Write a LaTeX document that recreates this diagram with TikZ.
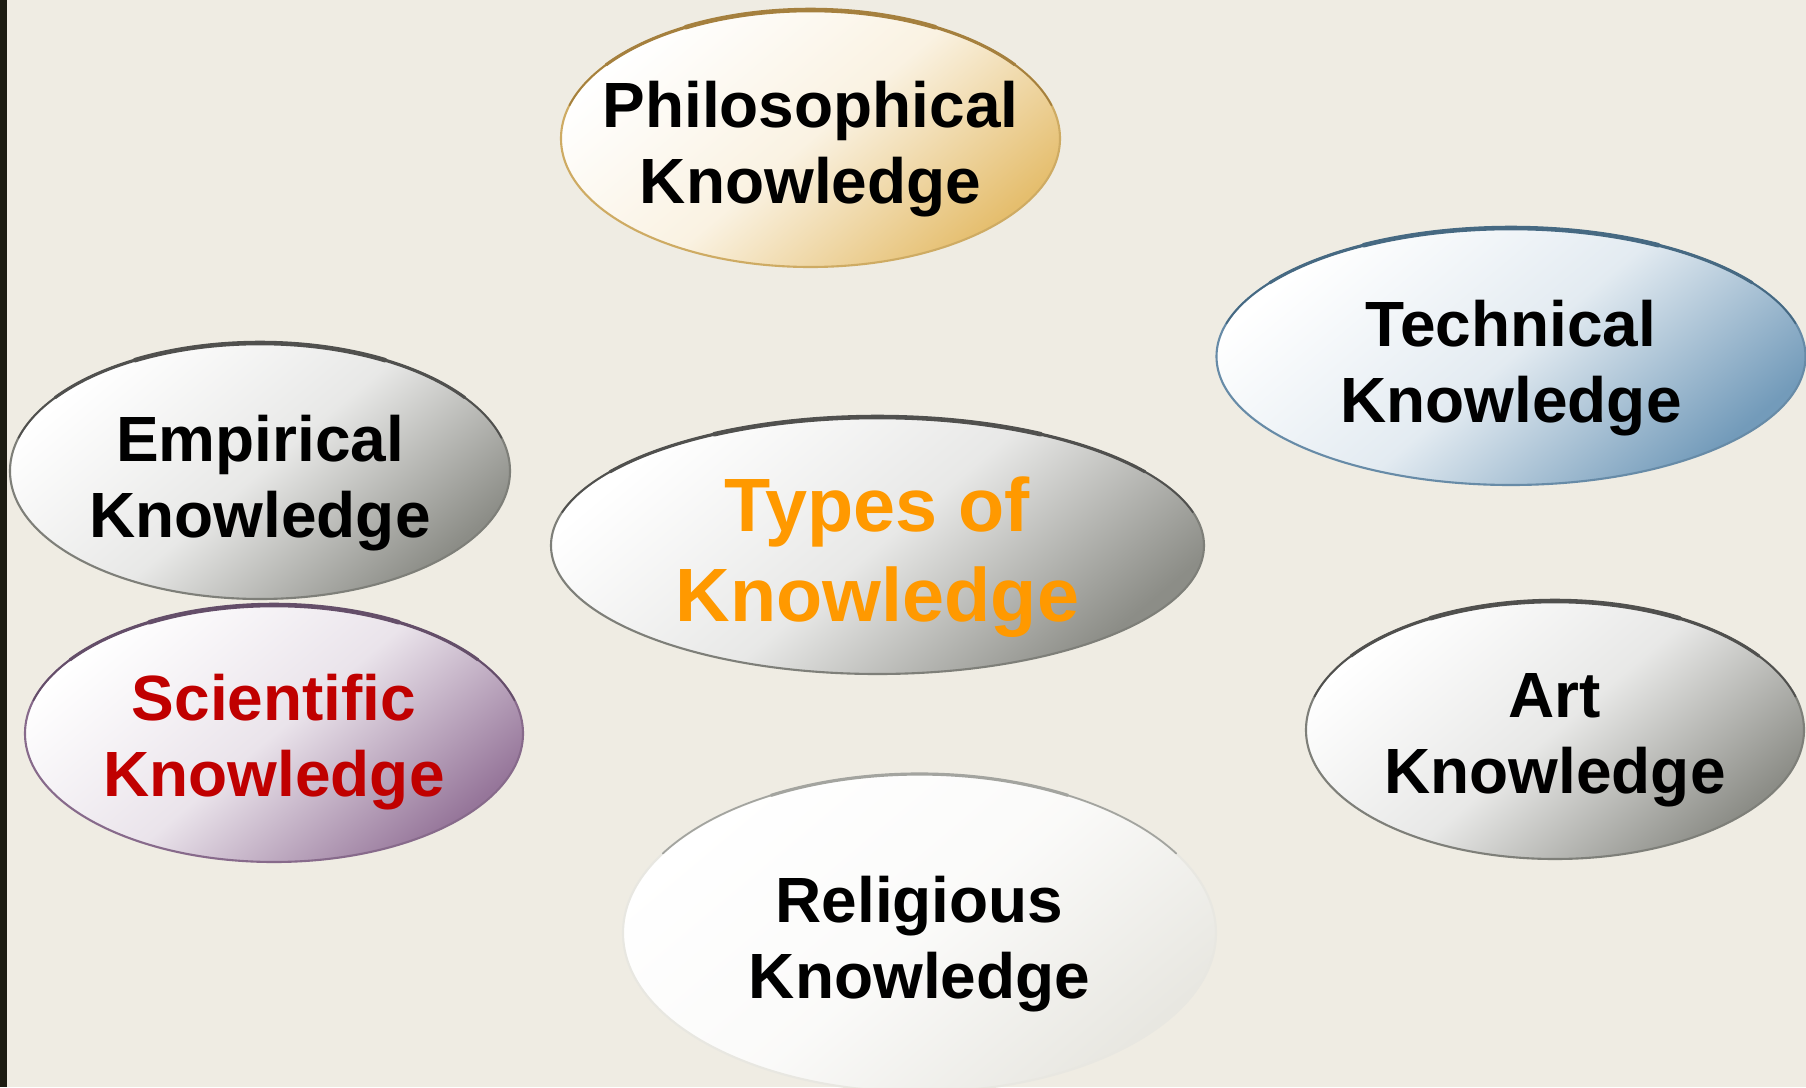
\documentclass[tikz,border=0pt]{standalone}
\usepackage{fontspec}
\setmainfont{Liberation Sans}
\definecolor{paper}{RGB}{239,236,227}
\definecolor{strip}{RGB}{28,28,18}
\definecolor{gold}{RGB}{229,190,110}
\definecolor{goldrim}{RGB}{165,128,62}
\definecolor{steel}{RGB}{115,155,186}
\definecolor{steelrim}{RGB}{70,105,130}
\definecolor{stone}{RGB}{140,141,135}
\definecolor{stonerim}{RGB}{80,80,78}
\definecolor{mauve}{RGB}{150,118,154}
\definecolor{mauverim}{RGB}{100,78,105}
\definecolor{mist}{RGB}{232,231,225}
\definecolor{headline}{RGB}{255,153,0}
\definecolor{science}{RGB}{192,0,0}

\begin{document}
\begin{tikzpicture}[
    bubble/.style={top color=white, bottom color=#1, middle color=white!80!#1, shading angle=40, draw=#1!90!black, line width=0.6pt},
    rim/.style={draw=#1, line width=0.5pt, line cap=round},
    rimmid/.style={draw=#1, line width=0.9pt, line cap=round},
    rimtop/.style={draw=#1, line width=1.3pt, line cap=round},
    txt/.style={font=\bfseries\fontsize{18.2}{21.6}\selectfont, align=center, inner sep=0pt, text=black}
]
% page and left strip
\useasboundingbox (0,0) rectangle (18.06,10.87);
\clip (0,0) rectangle (18.06,10.87);
\fill[paper] (0,0) rectangle (18.06,10.87);
\fill[strip] (0,0) rectangle (0.07,10.87);

% philosophical
\path[bubble=gold] (8.105,9.485) ellipse [x radius=2.495, y radius=1.285];
\draw[rim=goldrim] (8.105,9.485) ++(165:2.495 and 1.285) arc[start angle=165, end angle=15, x radius=2.495, y radius=1.285];
\draw[rimmid=goldrim] (8.105,9.485) ++(145:2.495 and 1.285) arc[start angle=145, end angle=35, x radius=2.495, y radius=1.285];
\draw[rimtop=goldrim] (8.105,9.485) ++(120:2.495 and 1.285) arc[start angle=120, end angle=60, x radius=2.495, y radius=1.285];
\node[txt] (phil) at (8.105,9.38) {Philosophical\\Knowledge};

% technical
\path[bubble=steel] (15.11,7.305) ellipse [x radius=2.945, y radius=1.285];
\draw[rim=steelrim] (15.11,7.305) ++(165:2.945 and 1.285) arc[start angle=165, end angle=15, x radius=2.945, y radius=1.285];
\draw[rimmid=steelrim] (15.11,7.305) ++(145:2.945 and 1.285) arc[start angle=145, end angle=35, x radius=2.945, y radius=1.285];
\draw[rimtop=steelrim] (15.11,7.305) ++(120:2.945 and 1.285) arc[start angle=120, end angle=60, x radius=2.945, y radius=1.285];
\node[txt] (tech) at (15.11,7.19) {Technical\\Knowledge};

% empirical
\path[bubble=stone] (2.60,6.16) ellipse [x radius=2.50, y radius=1.28];
\draw[rim=stonerim] (2.60,6.16) ++(165:2.50 and 1.28) arc[start angle=165, end angle=15, x radius=2.50, y radius=1.28];
\draw[rimmid=stonerim] (2.60,6.16) ++(145:2.50 and 1.28) arc[start angle=145, end angle=35, x radius=2.50, y radius=1.28];
\draw[rimtop=stonerim] (2.60,6.16) ++(120:2.50 and 1.28) arc[start angle=120, end angle=60, x radius=2.50, y radius=1.28];
\node[txt] (emp) at (2.60,6.04) {Empirical\\Knowledge};

% scientific
\path[bubble=mauve] (2.74,3.535) ellipse [x radius=2.49, y radius=1.285];
\draw[rim=mauverim] (2.74,3.535) ++(165:2.49 and 1.285) arc[start angle=165, end angle=15, x radius=2.49, y radius=1.285];
\draw[rimmid=mauverim] (2.74,3.535) ++(145:2.49 and 1.285) arc[start angle=145, end angle=35, x radius=2.49, y radius=1.285];
\draw[rimtop=mauverim] (2.74,3.535) ++(120:2.49 and 1.285) arc[start angle=120, end angle=60, x radius=2.49, y radius=1.285];
\node[txt, text=science] (sci) at (2.74,3.45) {Scientific\\Knowledge};

% centre
\path[bubble=stone] (8.775,5.415) ellipse [x radius=3.265, y radius=1.285];
\draw[rim=stonerim] (8.775,5.415) ++(165:3.265 and 1.285) arc[start angle=165, end angle=15, x radius=3.265, y radius=1.285];
\draw[rimmid=stonerim] (8.775,5.415) ++(145:3.265 and 1.285) arc[start angle=145, end angle=35, x radius=3.265, y radius=1.285];
\draw[rimtop=stonerim] (8.775,5.415) ++(120:3.265 and 1.285) arc[start angle=120, end angle=60, x radius=3.265, y radius=1.285];
\node[txt, text=headline, font=\bfseries\fontsize{21.5}{25.6}\selectfont] (types) at (8.775,5.30) {Types of\\Knowledge};

% art
\path[bubble=stone] (15.55,3.57) ellipse [x radius=2.49, y radius=1.29];
\draw[rim=stonerim] (15.55,3.57) ++(165:2.49 and 1.29) arc[start angle=165, end angle=15, x radius=2.49, y radius=1.29];
\draw[rimmid=stonerim] (15.55,3.57) ++(145:2.49 and 1.29) arc[start angle=145, end angle=35, x radius=2.49, y radius=1.29];
\draw[rimtop=stonerim] (15.55,3.57) ++(120:2.49 and 1.29) arc[start angle=120, end angle=60, x radius=2.49, y radius=1.29];
\node[txt] (art) at (15.55,3.464) {Art\\Knowledge};

% religious, no outline
\path[bubble=mist, draw=mist] (9.195,1.54) ellipse [x radius=2.965, y radius=1.59];
\draw[rim=stone!80] (9.195,1.54) ++(150:2.965 and 1.59) arc[start angle=150, end angle=30, x radius=2.965, y radius=1.59];
\draw[rimmid=stone!80] (9.195,1.54) ++(120:2.965 and 1.59) arc[start angle=120, end angle=60, x radius=2.965, y radius=1.59];
\node[txt] (rel) at (9.195,1.43) {Religious\\Knowledge};
\end{tikzpicture}
\end{document}
